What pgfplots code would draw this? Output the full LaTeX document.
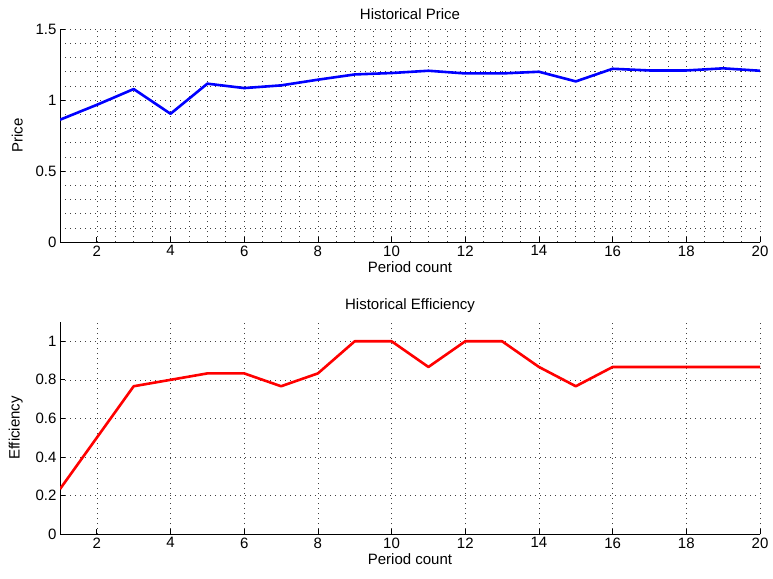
\documentclass[border=0pt]{standalone}
\usepackage{pgfplots}
\pgfplotsset{compat=1.18}
\usepackage{fontspec}
\setmainfont{Liberation Sans}
\begin{document}
\begin{tikzpicture}
\path (0pt,0pt) rectangle (773pt,-578pt);
\pgfplotsset{
  mystyle/.style={
    scale only axis,
    width=700pt,
    xmin=1, xmax=20,
    xtick={2,4,...,20},
    axis x line*=bottom,
    axis y line*=left,
    axis line style={-, black, line width=0.7pt},
    tick align=inside,
    major tick length=5pt,
    minor tick length=0pt,
    tick style={black, line width=0.7pt},
    /pgf/number format/assume math mode=true,
    font=\fontsize{15}{17}\selectfont,
    ticklabel style={font=\fontsize{15}{17}\selectfont},
    title style={font=\fontsize{15}{17}\selectfont, yshift=0pt},
    label style={font=\fontsize{15}{17}\selectfont},
    major grid style={black!75, line width=0.6pt, dash pattern=on 0.8pt off 4.2pt},
    minor grid style={black!75, line width=0.6pt, dash pattern=on 0.8pt off 4.2pt},
    xlabel={Period count},
    xlabel style={yshift=1pt},
    ylabel style={yshift=6pt},
  }
}
\begin{axis}[mystyle,
  at={(60pt,-242pt)}, anchor=south west,
  height=213pt,
  ymin=0, ymax=1.5,
  ytick={0,0.5,1,1.5},
  yticklabels={0,0.5,1,1.5},
  minor x tick num=3,
  minor y tick num=4,
  grid=both,
  title={Historical Price},
  ylabel={Price},
]
\addplot[blue, line width=2.6pt, line join=round] coordinates {
(1,0.861) (2,0.966) (3,1.077) (4,0.903) (5,1.115) (6,1.084) (7,1.103)
(8,1.143) (9,1.180) (10,1.190) (11,1.206) (12,1.187) (13,1.187) (14,1.199)
(15,1.131) (16,1.220) (17,1.208) (18,1.208) (19,1.223) (20,1.206)
};
\end{axis}
\begin{axis}[mystyle,
  at={(60pt,-534pt)}, anchor=south west,
  height=212pt,
  ymin=0, ymax=1.1,
  ytick={0,0.2,...,1.0},
  yticklabels={0,0.2,0.4,0.6,0.8,1},
  grid=major,
  title={Historical Efficiency},
  ylabel={Efficiency},
]
\addplot[red, line width=2.6pt, line join=round] coordinates {
(1,0.2333) (2,0.5) (3,0.7667) (4,0.8) (5,0.8333) (6,0.8333) (7,0.7667)
(8,0.8333) (9,1) (10,1) (11,0.8667) (12,1) (13,1) (14,0.8667)
(15,0.7667) (16,0.8667) (17,0.8667) (18,0.8667) (19,0.8667) (20,0.8667)
};
\end{axis}
\end{tikzpicture}
\end{document}
